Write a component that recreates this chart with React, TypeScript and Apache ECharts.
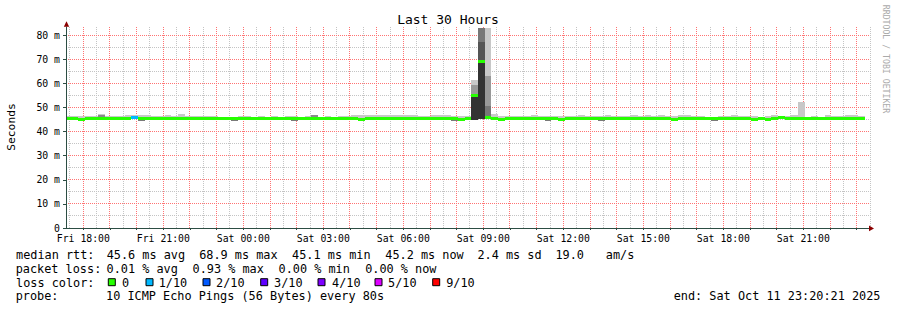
import React, { useEffect, useRef } from 'react';
import * as echarts from 'echarts';

// ---- time axis: hours since Fri 00:00 ----
const X_MIN = 17.35;
const X_MAX = 47.5;
const Y_MAX = 83.32;
const BIN_START = 17.3; // first 15-minute bin start (hours)
const BIN_HOURS = 0.25;

// median rtt per 15-minute bin (ms)
const median = [
  45.4, 45.4, 45.0, 45.4, 45.4, 45.4, 45.4, 45.4, 45.4, 45.4,
  45.8, 45.4, 45.4, 45.4, 45.4, 45.4, 45.4, 45.4, 45.4, 45.4,
  45.4, 45.4, 45.4, 45.4, 45.4, 45.4, 45.4, 45.4, 45.4, 45.4,
  45.4, 45.4, 45.4, 45.4, 45.4, 45.4, 45.4, 45.4, 45.4, 45.4,
  45.4, 45.4, 45.4, 45.4, 45.0, 45.4, 45.4, 45.4, 45.4, 45.4,
  45.4, 45.4, 45.4, 45.4, 45.4, 45.4, 45.4, 45.4, 45.4, 45.0,
  45.4, 55.0, 68.9, 46.0, 45.4, 45.0, 45.4, 45.4, 45.4, 45.4,
  45.4, 45.4, 45.4, 45.4, 45.0, 45.4, 45.4, 45.4, 45.4, 45.4,
  45.4, 45.4, 45.4, 45.4, 45.4, 45.4, 45.4, 45.4, 45.4, 45.4,
  45.4, 45.0, 45.4, 45.4, 45.4, 45.4, 45.4, 45.4, 45.4, 45.4,
  45.4, 45.4, 45.4, 45.0, 45.4, 45.0, 45.4, 45.8, 45.4, 45.4,
  45.4, 45.4, 45.4, 45.4, 45.4, 45.4, 45.4, 45.4, 45.4, 45.4,
];

// top of the outer (light) smoke per bin (ms)
const smokeTop = [
  46.6, 46.6, 46.6, 46.6, 46.6, 47.1, 46.4, 46.4, 46.4, 47.0,
  47.0, 46.9, 46.9, 46.6, 46.4, 47.0, 46.4, 47.4, 46.4, 46.4,
  46.4, 46.4, 46.4, 46.0, 46.0, 46.0, 46.4, 46.4, 46.0, 46.6,
  46.0, 46.6, 46.0, 46.6, 46.6, 46.0, 46.6, 47.0, 46.0, 46.6,
  46.0, 46.4, 46.6, 47.0, 46.7, 46.7, 47.0, 47.0, 46.7, 47.0,
  47.0, 46.7, 46.7, 46.6, 46.6, 47.0, 47.0, 46.9, 46.6, 46.4,
  46.6, 55.0, 68.9, 46.0, 47.2, 46.6, 46.4, 46.6, 46.6, 46.6,
  47.0, 46.6, 46.4, 46.6, 46.4, 46.5, 46.5, 47.0, 46.6, 46.6,
  46.4, 47.0, 46.6, 46.6, 46.4, 46.8, 46.4, 47.0, 46.6, 46.8,
  46.3, 46.3, 46.8, 46.8, 46.4, 46.4, 46.0, 46.2, 46.4, 46.4,
  46.8, 46.4, 46.4, 46.4, 46.2, 46.3, 46.8, 46.4, 46.4, 46.8,
  52.4, 46.0, 46.4, 46.0, 46.8, 46.4, 46.5, 46.8, 46.8, 46.3,
];

// [bin, top of darker inner smoke above the median]
const innerTop = [[5, 46.8], [37, 46.8], [92, 46.2], [104, 46.2], [119, 46.2]];
// [bin, bottom of darker smoke below the median]
const smokeBottom = [[11, 44.5], [25, 44.5], [34, 44.4], [58, 44.5], [72, 44.4], [80, 44.5], [97, 44.5]];
// [bin, lost pings out of 10]
const lossEvents = [[10, 1]];
// spike bins: [bin, from ms, to ms, shade index]
const spikeBands = [
  [61, 44.8, 55.0, 4], [61, 55.0, 59.2, 1], [61, 59.2, 61.3, 0],
  [62, 45.0, 68.9, 4], [62, 68.9, 76.9, 3], [62, 76.9, 83.0, 2],
  [63, 45.5, 50.6, 2], [63, 50.6, 63.0, 1], [63, 63.0, 83.0, 0],
];

const yTickValues = [0, 10, 20, 30, 40, 50, 60, 70, 80];
const yMinorValues = [5, 15, 25, 35, 45, 55, 65, 75];
const xLabelHours = [18, 21, 24, 27, 30, 33, 36, 39, 42, 45];
const xHourLines = [18, 19, 20, 21, 22, 23, 24, 25, 26, 27, 28, 29, 30, 31, 32, 33, 34, 35, 36, 37, 38, 39, 40, 41, 42, 43, 44, 45, 46, 47];
const xHalfHourLines = [17.5, 18.5, 19.5, 20.5, 21.5, 22.5, 23.5, 24.5, 25.5, 26.5, 27.5, 28.5, 29.5, 30.5, 31.5, 32.5, 33.5, 34.5, 35.5, 36.5, 37.5, 38.5, 39.5, 40.5, 41.5, 42.5, 43.5, 44.5, 45.5, 46.5, 47.5];

const lossColors = ['#26ff00', '#00b8ff', '#0059ff', '#5e00ff', '#7e00ff', '#dd00ff', '#ff0000'];
const lossLabels = ['0', '1/10', '2/10', '3/10', '4/10', '5/10', '9/10'];
const shadeColors = ['#c8c8c8', '#999999', '#777777', '#555555', '#333333'];
const innerColor = '#8a8a8a';
const bottomColor = '#7a7a7a';
const majorGrid = '#ff7373';
const minorGrid = '#c4c4c4';

const rttStats = ['median rtt:', '45.6 ms avg', '68.9 ms max', '45.1 ms min', '45.2 ms now', '2.4 ms sd', '19.0', 'am/s'];
const lossStats = ['packet loss:', '0.01 % avg', '0.93 % max', '0.00 % min', '0.00 % now'];
const probeText = ['probe:', '10 ICMP Echo Pings (56 Bytes) every 80s'];
const endText = 'end: Sat Oct 11 23:20:21 2025';

const MONO = '"DejaVu Sans Mono", "Liberation Mono", monospace';

function App() {
  const ref = useRef<HTMLDivElement>(null);
  useEffect(() => {
    document.body.style.margin = '0';
    if (!ref.current) return;
    const chart = echarts.init(ref.current, undefined, { renderer: 'svg' });

    const binT0 = (i: number) => BIN_START + i * BIN_HOURS;
    const spikeBins = new Set(spikeBands.map((b) => b[0]));

    // smoke rectangles: [t0, t1, lo, hi]
    const smokeItems: number[][] = [];
    const smokeColor: string[] = [];
    median.forEach((m, i) => {
      if (spikeBins.has(i)) return;
      if (smokeTop[i] > m) { smokeItems.push([binT0(i), binT0(i + 1), m, smokeTop[i]]); smokeColor.push(shadeColors[0]); }
    });
    innerTop.forEach(([i, v]) => { smokeItems.push([binT0(i), binT0(i + 1), median[i], v]); smokeColor.push(innerColor); });
    smokeBottom.forEach(([i, v]) => { smokeItems.push([binT0(i), binT0(i + 1), v, median[i]]); smokeColor.push(bottomColor); });
    spikeBands.forEach(([i, lo, hi, s]) => { smokeItems.push([binT0(i), binT0(i + 1), lo, hi]); smokeColor.push(shadeColors[s]); });

    const lossByBin: Record<number, number> = {};
    lossEvents.forEach(([i, l]) => { lossByBin[i] = l; });
    const medianItems = median.map((m, i) => [binT0(i), binT0(i + 1), m, m]);
    const medianColor = median.map((_, i) => lossColors[Math.min(lossByBin[i] || 0, 6)]);

    const rectRender = (colors: string[], isLine: boolean) => (params: any, api: any) => {
      const it = (isLine ? medianItems : smokeItems)[params.dataIndex];
      const t0 = Math.max(it[0], X_MIN);
      const t1 = Math.min(it[1], X_MAX);
      if (t1 <= t0) return null;
      const a = api.coord([t0, it[3]]);
      const b = api.coord([t1, it[2]]);
      const x0 = Math.round(a[0]);
      const x1 = Math.round(b[0]);
      if (isLine) {
        const y = Math.round(a[1] - 1.5);
        return { type: 'rect', shape: { x: x0, y, width: x1 - x0, height: 3 }, style: { fill: colors[params.dataIndex] } };
      }
      const y0 = Math.round(a[1]);
      const y1 = Math.round(b[1]);
      return { type: 'rect', shape: { x: x0, y: y0, width: x1 - x0, height: Math.max(y1 - y0, 1) }, style: { fill: colors[params.dataIndex] } };
    };

    const font = (size: number) => `${size}px ${MONO}`;
    const txt = (text: string, x: number, y: number, size = 11.85, extra: any = {}) => ({
      type: 'text', x, y, silent: true,
      style: { text, font: font(size), fill: '#000', align: 'left', verticalAlign: 'middle', ...extra },
    });

    const row1X = [16, 106.7, 199.2, 292.1, 385.3, 477.4, 555.4, 605.8];
    const row2X = [15.7, 106.5, 192.5, 278.5, 365.2];
    const boxX = [108.3, 146, 203, 260.7, 318, 375, 432.7];
    const legTextX = [121.9, 158.7, 216.1, 274.1, 332, 388.1, 446.2];
    const rowY = [255, 268.8, 282.5, 296];

    const textGraphic: any[] = [
      txt('Last 30 Hours', 448, 19.5, 13, { align: 'center' }),
      { type: 'text', x: 11, y: 127, rotation: Math.PI / 2, silent: true,
        style: { text: 'Seconds', font: font(11.3), fill: '#000', align: 'center', verticalAlign: 'middle' } },
      { type: 'text', x: 886, y: 59, rotation: -Math.PI / 2, silent: true,
        style: { text: 'RRDTOOL / TOBI OETIKER', font: font(8.2), fill: '#aaaaaa', align: 'center', verticalAlign: 'middle' } },
      { type: 'polygon', silent: true, z: 10, shape: { points: [[63.8, 26.8], [69.2, 26.8], [66.5, 21.3]] }, style: { fill: '#8b0000' } },
      { type: 'polygon', silent: true, z: 10, shape: { points: [[869, 225.6], [869, 231.2], [874, 228.4]] }, style: { fill: '#8b0000' } },
      ...rttStats.map((t, k) => txt(t, row1X[k], rowY[0])),
      ...lossStats.map((t, k) => txt(t, row2X[k], rowY[1])),
      txt('loss color:', 16, rowY[2]),
      ...lossLabels.map((t, k) => txt(t, legTextX[k], rowY[2])),
      ...lossColors.map((c, k) => ({
        type: 'rect', silent: true,
        shape: { x: boxX[k], y: rowY[2] - 3.8, width: 7, height: 7 },
        style: { fill: c, stroke: '#000', lineWidth: 1 },
      })),
      txt(probeText[0], 15.7, rowY[3]),
      txt(probeText[1], 106, rowY[3]),
      txt(endText, 880.5, rowY[3], 11.85, { align: 'right' }),
    ];

    const fmtX = (v: number) => {
      const day = v < 24 ? 'Fri' : 'Sat';
      const h = Math.round(v) % 24;
      return `${day} ${String(h).padStart(2, '0')}:00`;
    };

    chart.setOption({
      animation: false,
      backgroundColor: '#ffffff',
      grid: { left: 66, top: 27, width: 804, height: 201 },
      xAxis: {
        type: 'value', min: X_MIN, max: X_MAX,
        axisLine: { show: true, lineStyle: { color: '#2c4d43', width: 1 } },
        axisTick: { show: true, customValues: xHourLines, length: 2, lineStyle: { color: '#2c4d43' } },
        axisLabel: { customValues: xLabelHours, formatter: fmtX, margin: 5, fontFamily: MONO, fontSize: 9.8, color: '#000' },
        splitLine: { show: false },
        z: 5,
      },
      yAxis: {
        type: 'value', min: 0, max: Y_MAX,
        axisLine: { show: true, lineStyle: { color: '#2c4d43', width: 1 } },
        axisTick: { show: true, customValues: yTickValues, length: 3, lineStyle: { color: '#2c4d43' } },
        axisLabel: { customValues: yTickValues, formatter: (v: number) => (v === 0 ? '0' : `${v} m`), margin: 6, fontFamily: MONO, fontSize: 9.8, color: '#000' },
        splitLine: { show: false },
        z: 5,
      },
      series: [
        {
          type: 'custom', z: 2, silent: true, data: smokeItems,
          encode: { x: [0, 1], y: [2, 3] },
          renderItem: rectRender(smokeColor, false),
        },
        {
          type: 'custom', z: 3, silent: true, data: medianItems,
          encode: { x: [0, 1], y: [2, 3] },
          renderItem: rectRender(medianColor, true),
        },
      ],
    });

    // grid lines placed through the chart's own axis scales
    const px = (v: number) => chart.convertToPixel({ xAxisIndex: 0 }, v) as number;
    const py = (v: number) => chart.convertToPixel({ yAxisIndex: 0 }, v) as number;
    const left = px(X_MIN), right = px(X_MAX), top = py(Y_MAX), bottom = py(0);
    const vLine = (v: number, color: string) => {
      const x = Math.floor(px(v)) + 0.5;
      return { type: 'line', silent: true, z: 0, shape: { x1: x, y1: top, x2: x, y2: bottom }, style: { stroke: color, lineWidth: 1, lineDash: [1, 1] } };
    };
    const hLine = (v: number, color: string) => {
      const y = Math.floor(py(v)) + 0.5;
      return { type: 'line', silent: true, z: 0, shape: { x1: left, y1: y, x2: right, y2: y }, style: { stroke: color, lineWidth: 1, lineDash: [1, 1] } };
    };
    const gridGraphic = [
      ...yMinorValues.map((v) => hLine(v, minorGrid)),
      ...xHalfHourLines.map((v) => vLine(v, minorGrid)),
      ...yTickValues.filter((v) => v > 0).map((v) => hLine(v, majorGrid)),
      ...xHourLines.map((v) => vLine(v, majorGrid)),
    ];

    chart.setOption({ graphic: [...gridGraphic, ...textGraphic] });
    return () => chart.dispose();
  }, []);
  return <div ref={ref} style={{ width: 897, height: 310 }} />;
}

export default App;
